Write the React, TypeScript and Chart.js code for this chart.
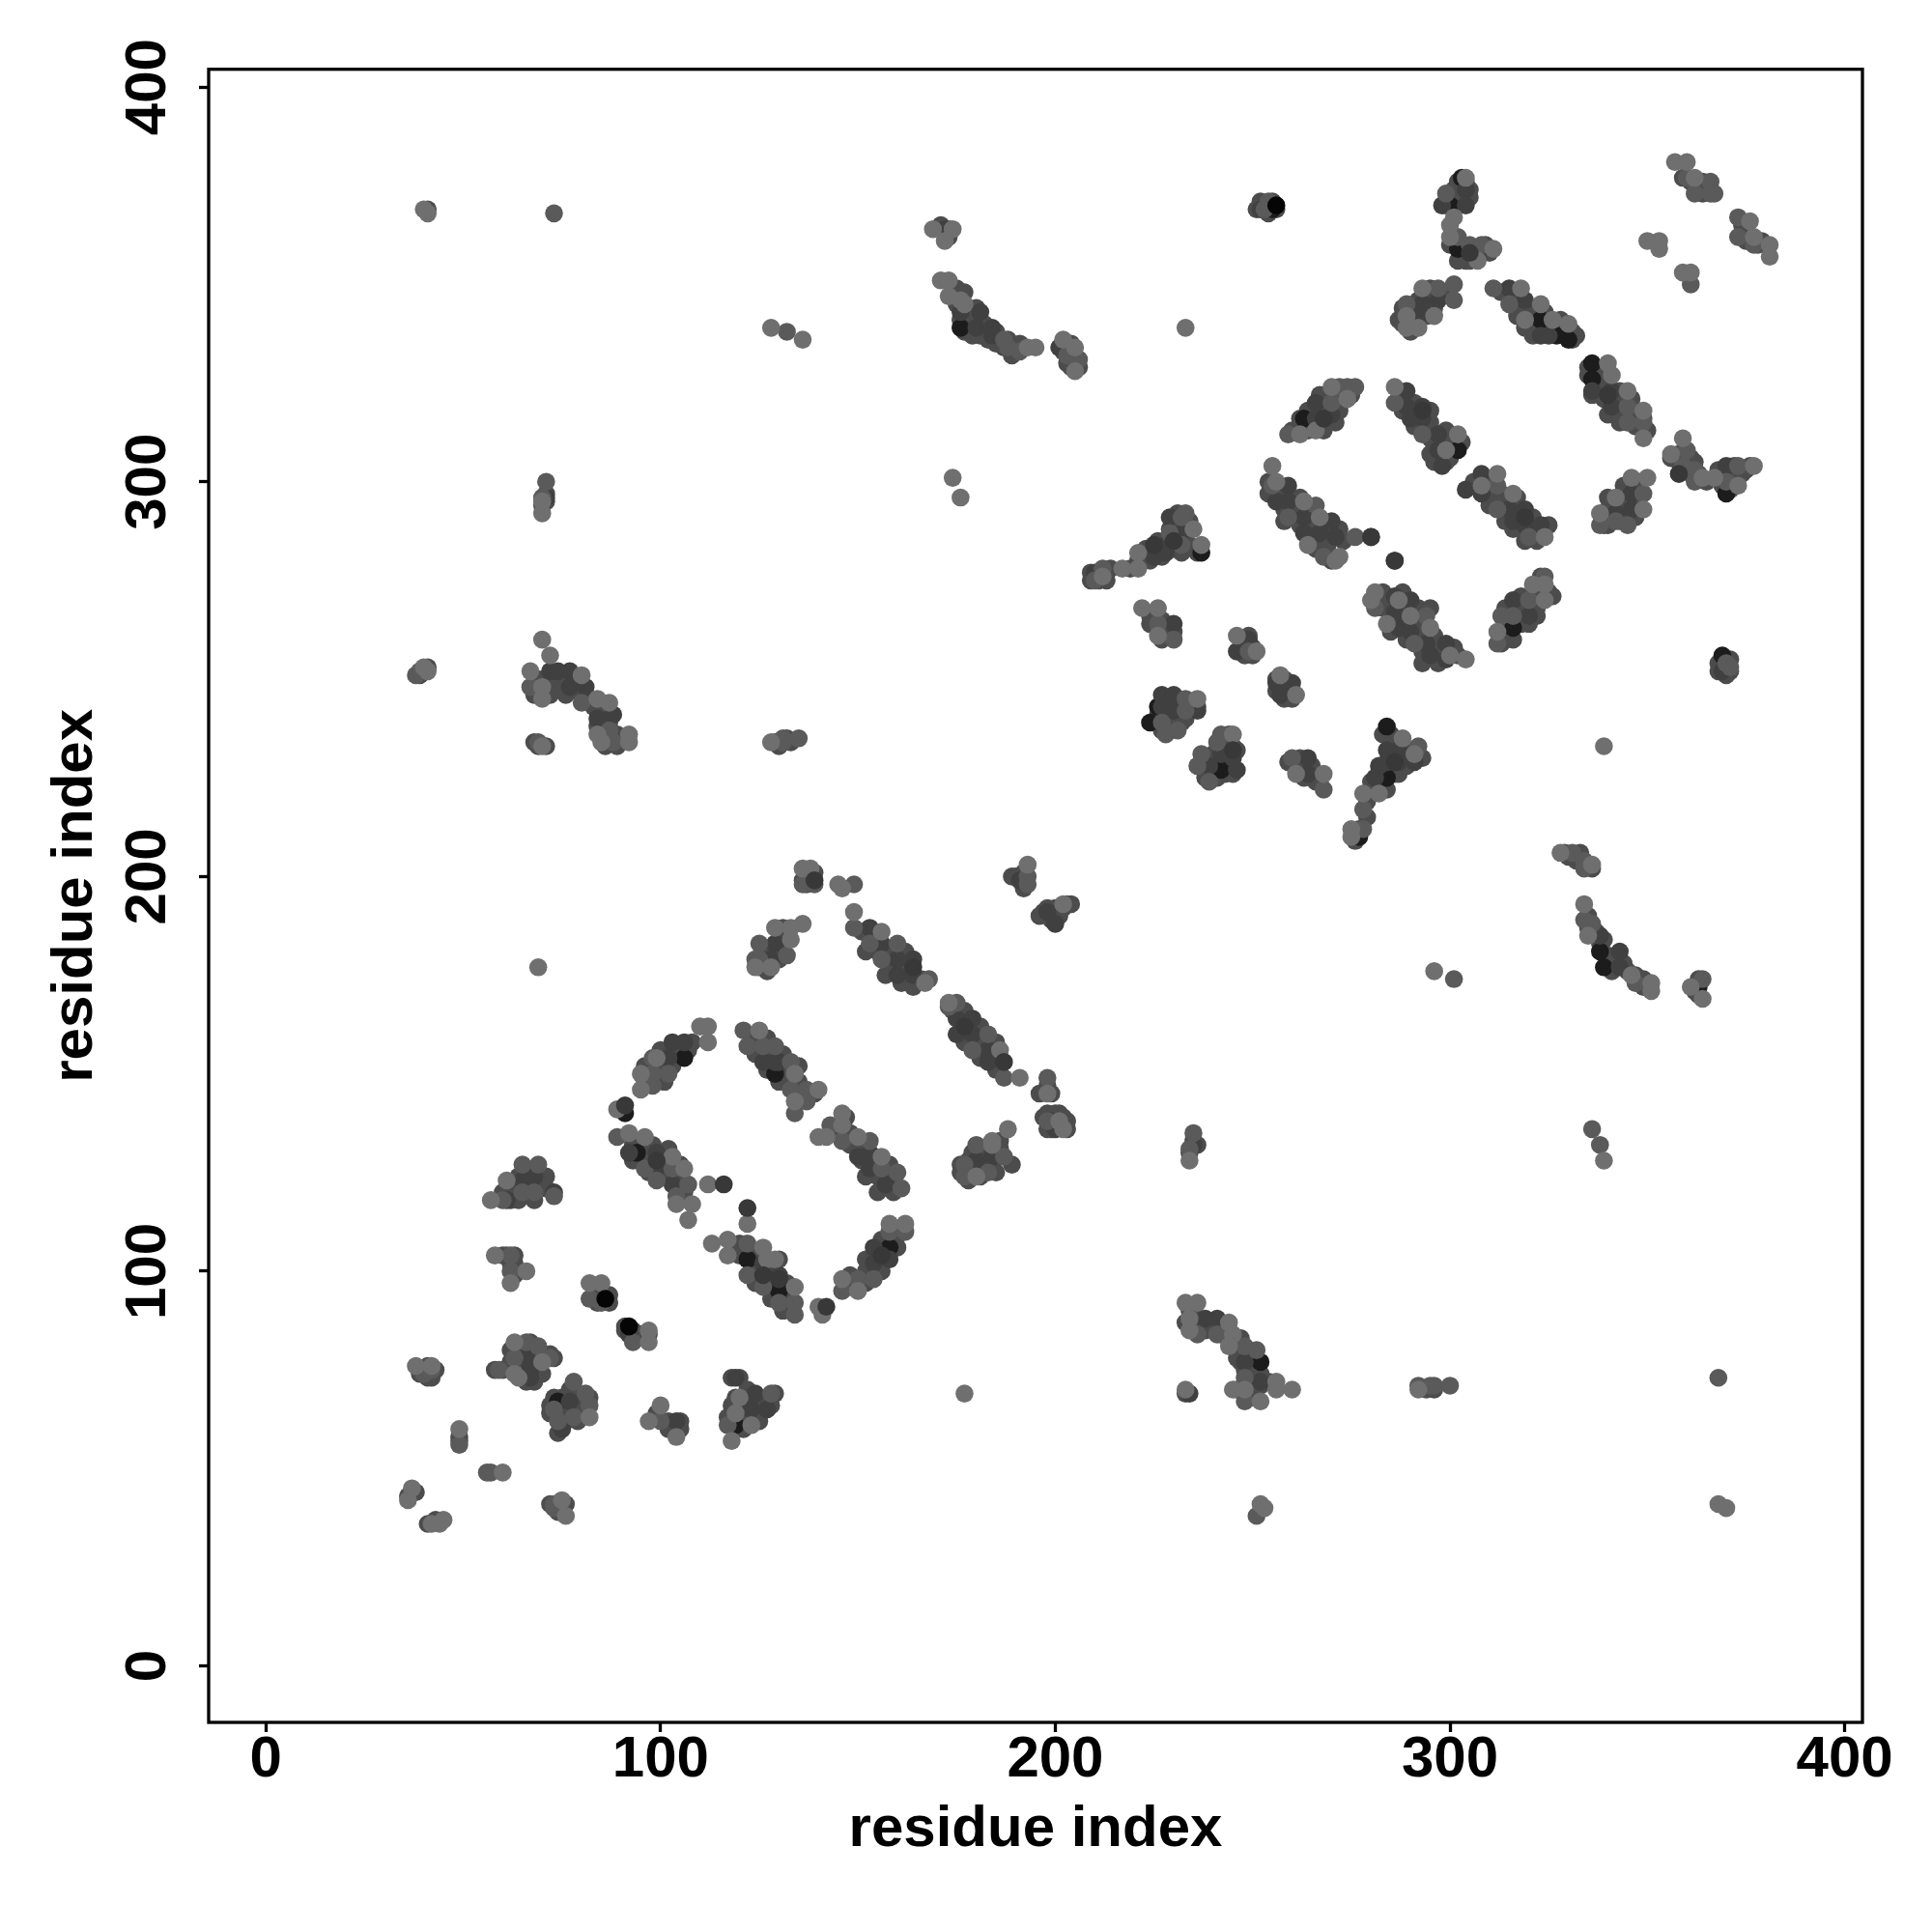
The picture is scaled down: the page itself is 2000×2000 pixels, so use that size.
import React, { useEffect, useRef } from "react";
import { Chart, registerables } from "chart.js";

Chart.register(...registerables);

const axisTicks = [0, 100, 200, 300, 400];
const xMin = -14.5;
const yMin = -14.3;
const axisMax = 404.5;
const axisTitle = "residue index";

const fill = [
  [96,148],[97,152],[100,152],[100,156],[104,156],[108,158],[101,148],[103,152],[105,155],[100,149],[96,152],[101,152],[107,156],
  [93,132],[95,128],[97,128],[100,128],[101,124],[104,124],[97,125],[93,128],[106,120],[101,127],[105,122],[95,131],[98,132],[102,131],[105,127],[97,131],
  [124,105],[124,101],[128,100],[128,97],[132,97],[132,94],[124,97],[128,93],[120,104],[120,107],[130,103],[126,99],[122,103],[125,100],[131,90],[133,93],
  [148,96],[148,99],[152,100],[152,97],[156,100],[156,104],[152,103],[160,106],[160,109],[156,108],
  [123,159],[124,155],[128,155],[127,159],[131,151],[131,155],[132,148],[135,148],[135,152],[136,145],[139,145],[127,151],[130,148],
  [144,135],[148,135],[148,132],[151,132],[151,128],[155,128],[155,124],[158,124],[158,127],[152,124],[155,120],[159,120],[147,139],
  [151,186],[152,181],[155,181],[155,185],[158,181],[158,177],[162,177],[162,181],[166,174],[157,175],[161,173],[164,172],
  [174,166],[177,166],[177,162],[177,158],[181,158],[181,162],[181,154],[185,154],[185,158],[185,151],[178,160],
  [126,182],[128,181],[131,183],[131,187],[126,180],[130,179],[127,176],[132,185],[125,177],[130,184],
  [137,200],[138,199],[137,198],[139,201],[136,199],[189,200],[190,200],[192,197],[192,201],
  [198,192],[199,189],[201,190],[197,191],[199,190],[200,192],[203,193],[196,190],[202,192],[204,193],
  [197,139],[198,136],[199,136],[201,140],[202,139],[203,136],[203,138],[198,140],[200,140],[196,145],[199,145],[198,147],
  [178,125],[178,128],[182,125],[182,128],[182,131],[186,129],[186,133],[179,130],[178,123],[181,124],[183,131],[185,125],[176,127],[176,125],[189,127],[186,131],
  [60,120],[62,118],[64,118],[61,119],[63,122],[66,120],[66,125],[68,126],[70,122],[71,124],[67,122],[64,124],[62,120],[68,118],[71,121],
  [60,104],[62,102],[63,102],[63,104],[63,99],[64,100],[61,104],[83,94],[84,92],[87,92],[87,94],[93,85],[91,85],[95,84],[97,84],[91,86],[94,83],
  [65,80],[67,80],[68,78],[64,76],[66,76],[68,76],[69,74],[65,74],[63,76],[62,80],[64,78],[70,74],[68,72],[66,72],[67,82],[62,77],[70,79],[72,79],[73,78],[60,75],[58,75],
  [75,68],[76,65],[74,64],[77,64],[79,66],[80,64],[80,68],[78,68],[76,62],[79,62],[81,65],[82,68],[75,60],[73,68],[72,66],[72,64],[77,70],[75,62],[74,59],
  [118,73],[120,73],[121,68],[122,70],[123,68],[125,67],[126,67],[125,64],[125,62],[122,62],[121,65],[120,62],[118,66],[119,68],[118,62],[121,60],[122,63],[128,66],[124,66],[129,69],[117,63],
  [99,64],[102,62],[103,61],[102,60],[105,60],[105,62],[104,60],[39,74],[41,74],[39,75],[41,76],[43,75],[42,73],[41,73],[49,57],[49,58],
  [36,43],[37,44],[38,44],[43,37],[41,36],[74,41],[75,40],[74,39],[76,41],[72,41],
  [69,250],[72,248],[74,250],[72,246],[75,248],[78,250],[79,247],[76,246],[82,245],[83,243],[84,242],[85,238],[86,240],[87,239],[86,236],[87,235],[89,236],[90,235],[89,233],[86,233],[68,246],[84,238],
  [68,234],[69,233],[71,233],[129,234],[132,235],[133,234],[130,233],[39,251],[40,252],[41,253],[70,294],[71,295],[71,297],[41,369],
  [171,365],[172,363],[173,364],[173,362],[175,345],[178,344],[180,344],[179,341],[177,338],[179,337],[182,340],[182,338],[181,337],[183,336],[185,338],[186,336],[185,335],[188,336],[189,332],[190,334],[191,335],[187,334],[175,349],[177,348],[174,347],[178,341],[176,341],
  [203,334],[204,335],[204,331],[203,330],[205,332],[206,329],[202,333],[204,329],
  [253,370],[254,370],[255,370],[251,369],[252,371],[254,368],[256,369],[255,371],
  [262,316],[264,318],[267,322],[268,318],[268,322],[272,320],[271,315],[268,313],[264,313],[267,315],[272,318],[260,313],[265,315],[272,322],[269,320],[275,322],[264,314],
  [256,297],[258,297],[258,293],[261,294],[261,291],[264,292],[265,289],[262,289],[265,285],[268,289],[269,285],[272,288],[269,284],[273,285],[260,296],[262,296],[254,297],[254,300],[258,290],[264,288],[266,283],[270,280],
  [283,268],[284,270],[285,266],[288,268],[288,265],[285,262],[289,264],[289,260],[292,268],[292,264],[292,260],[293,257],[296,261],[297,258],[296,257],[298,257],[301,258],[302,256],[281,270],[283,272],[288,272],[295,268],[286,265],[291,265],[297,254],[293,254],
  [314,263],[314,268],[314,260],[318,268],[318,264],[318,271],[322,272],[322,268],[323,276],[326,271],[325,272],[322,266],[316,260],[313,259],[316,266],[320,264],
  [288,321],[288,318],[291,320],[291,317],[291,314],[295,315],[295,318],[295,311],[299,313],[299,310],[296,309],[300,306],[299,305],[296,305],[303,310],[300,310],[295,307],[294,314],
  [306,300],[310,300],[310,296],[310,294],[313,297],[314,295],[317,296],[317,292],[314,290],[318,288],[321,291],[321,288],[316,288],[322,285],[319,285],[324,288],[325,289],[312,296],[309,299],
  [300,372],[301,374],[302,370],[303,372],[305,374],[305,372],[299,370],[301,371],[304,376],[302,376],[300,360],[302,361],[304,358],[303,357],[306,358],[305,356],[309,360],[310,358],[308,358],[304,356],[302,356],
  [291,345],[295,346],[294,343],[298,347],[295,349],[299,348],[292,346],[288,340],[287,341],[290,338],[291,340],[294,342],[290,343],[296,344],[288,344],
  [313,348],[316,347],[317,345],[317,342],[320,344],[321,342],[321,339],[324,343],[324,339],[326,338],[328,339],[329,337],[328,341],[321,337],[325,340],[331,336],[319,339],[331,338],[332,337],
  [335,329],[335,327],[337,325],[338,328],[338,324],[336,322],[340,325],[339,321],[340,317],[342,320],[343,323],[343,318],[343,317],[346,321],[347,317],[347,314],[349,316],[345,317],[350,313],[343,315],
  [358,307],[358,305],[360,305],[359,306],[361,302],[363,302],[365,300],[368,303],[369,302],[371,300],[372,302],[374,302],[375,303],[371,298],[372,304],[376,304],[369,299],[356,306],[361,306],[362,305],
  [340,296],[340,293],[343,294],[344,293],[345,295],[347,295],[347,291],[345,291],[340,289],[343,290],[348,300],[344,299],[346,299],[339,289],[340,290],[347,293],
  [359,377],[361,376],[364,376],[364,373],[375,364],[374,365],[375,361],[378,360],[379,361],[362,375],
  [368,254],[369,254],[370,255],[370,253],[371,255],[370,251],[368,252],[371,252],
  [230,290],[231,292],[231,288],[233,288],[229,285],[230,283],[233,285],[234,284],[234,290],[230,288],[226,285],[226,283],[223,283],[224,280],[221,280],[219,278],[214,278],[213,277],[211,276],[213,275],[211,275],[209,275],[209,277],[229,288],[232,282],[231,283],[236,282],[227,281],
  [224,266],[225,264],[226,266],[227,265],[228,264],[229,262],[227,260],[228,262],[230,262],[224,264],
  [247,260],[248,258],[247,257],[250,258],[248,256],[250,256],[249,261],[258,250],[258,247],[259,248],[260,245],[256,247],[258,245],[256,250],[260,247],
  [228,245],[228,242],[229,244],[231,245],[232,243],[234,243],[235,244],[231,240],[228,240],[231,241],[229,237],[230,239],[233,240],[234,242],[226,241],[227,237],[232,239],[236,243],
  [239,230],[240,231],[238,228],[241,228],[243,233],[243,229],[245,233],[244,228],[240,226],[243,226],[245,226],[241,225],[238,225],[246,232],[244,236],
  [261,228],[262,226],[263,228],[262,230],[266,226],[265,228],[266,224],[267,224],[263,225],[259,229],
  [276,211],[277,212],[276,209],[279,215],[279,219],[280,222],[283,223],[283,227],[285,227],[286,226],[286,230],[288,229],[289,232],[289,228],[290,232],[292,230],[286,234],[285,236],[283,236],[282,225],[280,224],[284,222],[287,226],[293,230],
  [330,205],[332,204],[333,206],[335,203],[336,202],[329,206],[335,190],[335,187],[337,186],[338,183],[339,184],[340,180],[340,178],[342,179],[344,178],[341,176],[345,176],[347,175],[348,174],[349,172],[349,174],
  [362,171],[363,174],[363,170],[233,87],[235,90],[238,85],[239,87],[240,86],[242,86],[243,85],[246,82],[247,83],[246,80],[248,79],[250,78],[251,75],[252,74],[250,72],[248,75],[249,70],[246,70],[250,68],[248,69],[252,71],[254,72],[236,88],[234,90],[242,84],[247,77],[250,76],[246,78],
  [233,69],[234,130],[235,133],[236,132],[294,70],[296,70],
];
const blackest = [
  [91,140],[106,154],[94,130],[158,106],[129,150],[263,316],[316,263],[302,308],[303,377],[302,359],[327,337],[330,336],
  [336,330],[336,326],[176,339],[339,177],[338,181],[369,256],[242,227],[284,225],[277,210],[252,77],[363,172],[237,282],
  [284,238],[226,243],[224,239],[74,67],[119,61],[370,297],[323,341],[122,103],[130,95],[300,370],[255,369],
];
const dark = [
  [106,158],[103,158],[102,154],[92,130],[99,130],[99,126],[103,122],[126,102],[130,99],[154,102],[154,106],[158,103],
  [150,129],[153,130],[153,126],[157,122],[129,153],[130,153],[126,153],[153,187],[156,183],[160,179],[164,179],[160,175],
  [164,175],[175,164],[175,160],[179,164],[179,160],[183,156],[183,153],[129,183],[128,179],[191,199],[200,188],[199,138],
  [200,136],[180,128],[184,129],[198,191],[266,320],[270,317],[266,316],[259,299],[256,295],[259,295],[263,291],[263,287],
  [270,290],[267,287],[271,286],[280,286],[286,280],[286,271],[286,267],[287,263],[290,270],[290,262],[294,259],[295,256],
  [299,259],[299,255],[316,270],[320,266],[289,323],[289,319],[290,316],[293,319],[293,316],[297,312],[297,308],[298,304],
  [304,298],[308,302],[308,297],[315,293],[316,290],[319,293],[319,289],[323,289],[304,374],[298,370],[304,370],[307,358],
  [293,345],[297,346],[292,342],[315,349],[319,346],[323,337],[325,337],[336,323],[341,323],[341,319],[358,302],[370,304],
  [346,297],[346,293],[342,292],[229,291],[232,287],[228,284],[225,281],[228,282],[210,277],[230,264],[249,260],[246,257],
  [256,249],[260,249],[257,246],[227,246],[230,246],[236,242],[230,242],[227,243],[245,230],[242,231],[239,228],[246,227],
  [264,230],[264,226],[284,232],[287,232],[287,229],[291,229],[284,229],[282,228],[281,225],[92,84],[67,75],[67,73],[66,78],
  [77,67],[75,60],[104,62],[119,73],[124,69],[123,65],[127,65],[61,118],[65,123],[68,124],[73,120],[72,252],[77,252],
  [74,252],[77,248],[81,248],[84,240],[88,241],[71,296],[172,364],[176,343],[181,343],[180,339],[184,339],[184,337],
  [201,334],[252,369],[369,252],[338,185],[343,181],[343,177],[234,69],[238,88],[241,88],[248,77],[252,72],[235,132],
];
const mid = [
  [98,154],[102,150],[98,150],[98,147],[89,134],[96,126],[103,126],[99,123],[107,122],[104,119],[122,107],[122,99],
  [126,96],[130,92],[134,92],[134,89],[146,95],[150,98],[154,98],[158,110],[162,110],[121,161],[122,157],[126,157],
  [129,157],[133,153],[133,146],[137,146],[137,143],[134,140],[146,133],[153,133],[156,126],[160,125],[161,121],[143,137],
  [136,198],[139,198],[149,198],[149,187],[153,183],[160,183],[156,179],[173,167],[175,168],[179,156],[183,160],[187,149],
  [168,174],[125,183],[132,180],[124,179],[125,179],[193,200],[193,198],[198,149],[198,138],[180,132],[187,129],[183,125],
  [177,127],[177,124],[272,324],[274,324],[276,324],[270,320],[259,312],[255,299],[259,291],[266,294],[268,281],[276,286],
  [281,268],[291,259],[294,266],[312,259],[313,266],[316,266],[320,270],[324,276],[286,320],[293,312],[312,299],[312,293],
  [320,286],[299,373],[302,362],[305,360],[308,360],[360,377],[362,373],[366,376],[366,373],[367,373],[373,367],[373,362],
  [377,360],[361,350],[301,350],[301,346],[297,349],[289,345],[311,349],[315,345],[345,319],[345,315],[349,315],[360,308],
  [359,304],[362,303],[362,300],[370,300],[373,304],[349,297],[342,290],[345,289],[338,289],[233,292],[232,291],[229,287],
  [232,284],[212,278],[210,275],[226,264],[230,260],[249,257],[233,245],[233,242],[227,239],[231,237],[228,236],[242,236],
  [241,234],[237,231],[236,228],[239,224],[260,230],[268,222],[292,233],[278,217],[278,212],[62,104],[62,100],[82,93],
  [85,92],[93,82],[66,82],[69,81],[72,78],[63,78],[59,75],[78,72],[81,69],[82,66],[73,65],[78,63],[74,62],[100,62],
  [128,69],[117,61],[56,49],[57,49],[73,41],[73,40],[40,74],[42,75],[49,56],[60,118],[65,127],[69,127],[65,120],[68,120],
  [73,119],[73,368],[132,338],[71,300],[70,296],[38,251],[39,252],[67,248],[80,244],[87,237],[88,234],[69,234],[131,235],
  [131,234],[135,235],[187,336],[188,334],[191,333],[203,332],[206,331],[254,371],[253,369],[370,254],[371,253],[331,206],
  [334,204],[334,202],[334,189],[336,188],[347,173],[364,174],[301,174],[234,131],[235,135],[336,136],[338,132],[236,84],
  [241,84],[248,81],[251,80],[248,73],[248,67],[292,71],[295,71],[296,71],[300,71],[368,73],[251,38],
];
const light = [
  [110,162],[112,162],[112,158],[99,154],[95,150],[95,146],[89,141],[92,135],[96,134],[103,129],[106,126],[104,117],
  [108,117],[107,113],[112,122],[122,112],[113,107],[117,108],[117,104],[126,106],[129,103],[127,103],[134,96],[140,91],
  [141,89],[146,98],[150,95],[158,112],[162,112],[125,161],[134,150],[134,143],[140,146],[142,134],[140,134],[146,140],
  [146,137],[150,134],[156,129],[136,202],[138,202],[145,198],[146,197],[149,191],[156,186],[167,173],[173,168],[186,156],
  [191,149],[198,145],[136,188],[133,187],[133,184],[129,187],[124,177],[128,177],[193,203],[202,193],[201,138],[202,136],
  [188,136],[184,133],[184,132],[180,124],[270,324],[274,321],[266,313],[262,312],[255,304],[256,300],[263,295],[267,291],
  [264,284],[271,280],[272,281],[281,272],[280,270],[287,270],[284,264],[290,266],[295,263],[300,256],[304,255],[312,262],
  [321,274],[324,270],[324,274],[286,324],[302,312],[299,308],[312,302],[308,299],[316,297],[324,286],[304,377],[301,367],
  [300,365],[300,362],[307,356],[311,359],[357,381],[360,381],[362,377],[376,366],[377,362],[381,360],[381,357],[350,361],
  [353,361],[353,359],[359,353],[361,353],[293,349],[296,342],[289,342],[292,339],[289,339],[318,349],[323,345],[319,341],
  [326,341],[330,340],[340,330],[341,327],[345,323],[349,318],[349,311],[359,311],[356,307],[364,301],[367,301],[373,299],
  [377,304],[346,301],[350,301],[342,296],[349,293],[338,292],[235,288],[237,284],[221,282],[221,278],[217,278],[212,276],
  [222,268],[226,268],[226,261],[246,261],[251,257],[257,251],[261,246],[236,245],[245,236],[261,226],[268,226],[288,235],
  [291,231],[282,221],[278,221],[275,212],[275,210],[58,104],[66,100],[62,97],[82,97],[85,97],[97,85],[97,82],[63,82],
  [70,77],[63,74],[64,73],[82,63],[100,66],[97,62],[104,58],[120,68],[119,64],[123,61],[118,57],[60,49],[75,42],[76,38],
  [38,76],[42,76],[49,60],[36,42],[37,45],[42,36],[44,36],[45,37],[57,118],[61,123],[69,177],[40,369],[41,368],[128,339],
  [136,336],[169,364],[174,364],[172,361],[171,351],[173,351],[173,347],[176,346],[70,295],[70,292],[174,301],[176,296],
  [40,253],[41,252],[70,260],[72,256],[67,252],[70,248],[70,245],[80,251],[84,245],[87,244],[84,236],[85,234],[92,236],
  [92,234],[70,233],[128,234],[177,345],[193,334],[195,334],[202,336],[205,334],[205,328],[233,339],[339,233],[328,206],
  [336,203],[334,193],[335,185],[346,175],[351,173],[351,171],[361,172],[364,169],[296,176],[234,128],[339,128],[233,92],
  [236,92],[234,88],[234,85],[244,87],[245,84],[244,81],[256,72],[256,70],[260,70],[245,70],[248,70],[252,67],[233,70],
  [292,70],[252,41],[253,40],[368,41],[370,40],[177,69],
];
const frontDark = [
  [91,142],[116,122],[122,116],[139,199],[187,153],[142,91],[280,286],[286,280],[225,284],[358,302],[305,358],[268,316],
  [99,128],[126,99],[130,98],[156,104],[164,177],[177,162],[293,318],[319,291],[340,322],[230,285],[245,232],[286,229],
];
const frontBlack = [[86,93],[92,86],[256,370]];

const tiers: [number[][], string, number][] = [
  [fill, "#4c4c4c", 7],
  [blackest, "#1c1c1c", 6],
  [dark, "#404040", 5],
  [mid, "#5a5a5a", 4],
  [light, "#6f6f6f", 3],
  [frontDark, "#383838", 2],
  [frontBlack, "#050505", 1],
];

const frame = {
  id: "frame",
  afterDraw(chart: any) {
    const { ctx, chartArea: a } = chart;
    ctx.save();
    ctx.strokeStyle = "#000";
    ctx.lineWidth = 3.3;
    ctx.strokeRect(a.left, a.top, a.right - a.left, a.bottom - a.top);
    ctx.restore();
  },
};

const font = { family: "'Liberation Sans'", size: 60, weight: "bold" as const, lineHeight: 1.2 };

function scale(horizontal: boolean) {
  return {
    type: "linear" as const,
    min: horizontal ? xMin : yMin,
    max: axisMax,
    afterBuildTicks(s: any) {
      s.ticks = axisTicks.map((value) => ({ value }));
    },
    afterFit(s: any) {
      if (horizontal) s.height = 217;
      else s.width = 216;
    },
    border: { display: false },
    grid: { drawOnChartArea: false, drawTicks: true, tickLength: 10, tickWidth: 3.3, tickColor: "#000" },
    ticks: {
      color: "#000",
      font,
      autoSkip: false,
      padding: horizontal ? -7 : 1,
      minRotation: horizontal ? 0 : 90,
      maxRotation: horizontal ? 0 : 90,
      crossAlign: horizontal ? ("near" as const) : ("center" as const),
    },
    title: {
      display: true,
      text: axisTitle,
      color: "#000",
      font,
      padding: horizontal ? { top: 0, bottom: 70 } : { top: 42, bottom: 0 },
    },
  };
}

export default function App() {
  const ref = useRef<HTMLCanvasElement>(null);
  useEffect(() => {
    const chart = new Chart(ref.current!, {
      type: "scatter",
      data: {
        datasets: tiers.map(([pts, color, order]) => ({
          data: pts.map(([x, y]) => ({ x, y })),
          backgroundColor: color,
          borderWidth: 0,
          pointRadius: 9.3,
          order,
        })),
      },
      options: {
        animation: false,
        responsive: false,
        devicePixelRatio: 1,
        layout: { padding: { top: 71.7, right: 72, left: 0, bottom: 0 } },
        plugins: { legend: { display: false }, tooltip: { enabled: false } },
        scales: { x: scale(true), y: scale(false) },
      },
      plugins: [frame],
    });
    return () => chart.destroy();
  }, []);
  return (
    <canvas
      ref={ref}
      width={2000}
      height={2000}
      style={{ position: "absolute", left: 0, top: 0, background: "#fff" }}
    />
  );
}
